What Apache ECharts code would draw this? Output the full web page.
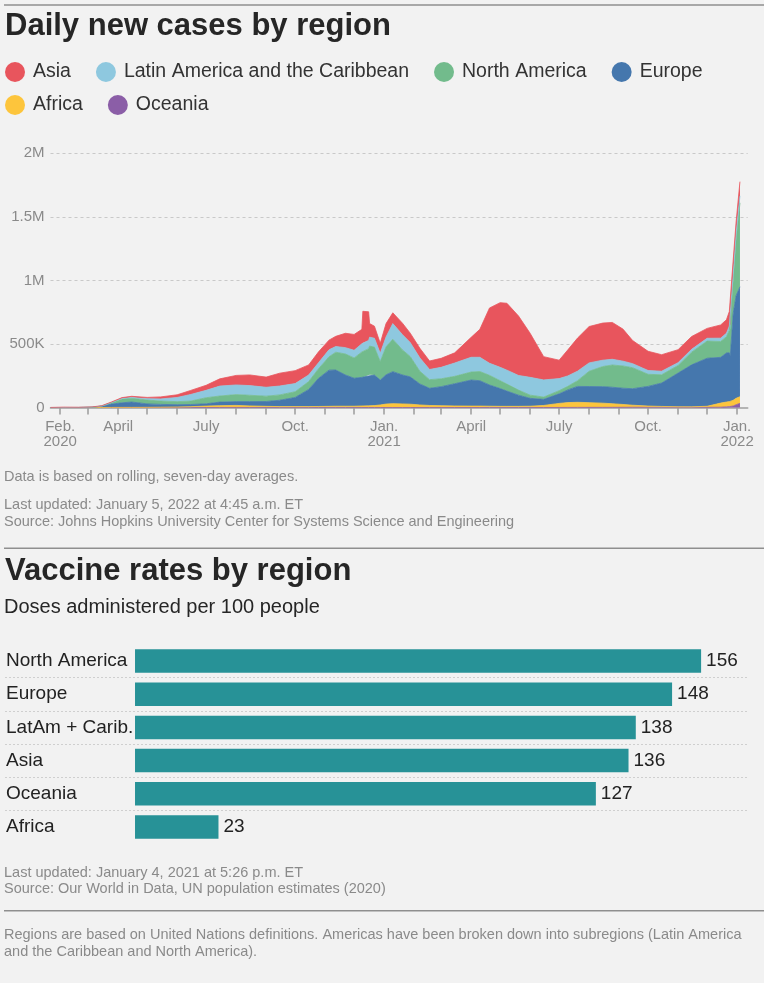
<!DOCTYPE html>
<html><head><meta charset="utf-8">
<script src="https://cdn.jsdelivr.net/npm/echarts@6/dist/echarts.min.js"></script>
<style>html,body{margin:0;padding:0;background:#f2f2f2;}#c{width:764px;height:983px;}</style>
</head><body><div id="c"></div>
<script>
// ---- Daily new cases (7-day avg), thousands ----
const dates = ['2020-01-22','2020-02-05','2020-02-20','2020-03-05','2020-03-15','2020-03-25','2020-04-05','2020-04-15','2020-05-01','2020-05-15','2020-06-01','2020-06-15','2020-07-01','2020-07-15','2020-08-01','2020-08-15','2020-09-01','2020-09-15','2020-10-01','2020-10-15','2020-10-25','2020-11-05','2020-11-12','2020-11-22','2020-12-01','2020-12-09','2020-12-10','2020-12-16','2020-12-17','2020-12-22','2020-12-28','2021-01-03','2021-01-10','2021-01-20','2021-01-28','2021-02-07','2021-02-17','2021-03-01','2021-03-15','2021-04-01','2021-04-10','2021-04-20','2021-05-01','2021-05-08','2021-05-20','2021-06-01','2021-06-15','2021-07-01','2021-07-10','2021-07-20','2021-08-01','2021-08-15','2021-08-25','2021-09-05','2021-09-15','2021-10-01','2021-10-15','2021-11-01','2021-11-15','2021-12-01','2021-12-15','2021-12-21','2021-12-24','2021-12-25','2021-12-28','2021-12-31','2022-01-04'];
const oceania = [0,0,0,0,0.05,0.4,0.3,0.1,0.02,0.02,0.02,0.02,0.05,0.3,0.4,0.35,0.12,0.05,0.02,0.02,0.02,0.02,0.02,0.02,0.02,0.02,0.02,0.02,0.02,0.03,0.03,0.04,0.04,0.03,0.02,0.02,0.02,0.02,0.03,0.03,0.03,0.03,0.03,0.03,0.05,0.05,0.1,0.3,0.6,0.9,1.1,1.2,1.4,1.8,2.0,2.2,2.4,1.9,1.5,1.5,2.5,5,7,8,12,22,33];
const africa = [0,0,0,0.01,0.05,0.3,0.6,1,1.5,2.5,4,6.5,11,14,16,12,9,7,7,7,8,9,10,10,10,12,12,13,13,15,20,27,30,28,26,20,16,14,12,11,11,10,9,9,9,10,16,32,38,40,37,33,28,22,16,9,6,4,4,8,32,38,39,40,45,50,52];
const europe = [0,0,0.05,2,10,26,36,42,27,22,18,17,18,28,30,34,38,50,72,135,220,285,285,246,220,225,225,235,245,240,196,230,252,228,215,165,135,150,175,205,200,167,140,120,88,62,48,75,100,125,127,130,130,128,130,155,184,265,330,378,360,386,385,360,683,808,865];
const northAmerica = [0,0,0,0.1,1.5,11,30,30,30,26,24,27,48,48,55,50,42,42,45,62,75,105,140,165,160,200,205,215,225,220,145,220,255,197,160,100,68,62,58,63,72,76,62,55,40,25,18,25,28,45,120,158,175,175,165,95,65,60,100,135,125,128,175,210,260,440,660];
const latinAmerica = [0,0,0,0,0.2,1.5,4,6,11,17,33,52,58,78,76,76,70,70,64,52,48,55,45,50,60,65,65,65,70,70,65,78,123,120,110,105,80,90,105,116,112,95,105,110,115,140,135,95,82,75,66,50,45,38,32,30,28,22,22,22,26,27,35,35,45,50,55];
const asia = [0.5,3,1.8,2.5,2.5,4,7,9,10,16,21,32,40,57,75,84,80,101,102,79,85,76,80,113,125,113,250,225,107,95,79,105,85,90,74,76,67,71,80,157,220,435,509,526,468,347,183,145,205,260,286,292,290,252,182,151,130,102,101,78,104,106,114,100,115,90,112];

const labelDates = ['2020-02-01','2020-04-01','2020-07-01','2020-10-01','2021-01-01','2021-04-01','2021-07-01','2021-10-01','2022-01-01'];
const labelTexts = ['Feb.\n2020','April','July','Oct.','Jan.\n2021','April','July','Oct.','Jan.\n2022'];
const yTickLabels = ['0','500K','1M','1.5M','2M'];

// ---- Vaccine doses per 100 people ----
const vacCategories = ['North America','Europe','LatAm + Carib.','Asia','Oceania','Africa'];
const vacValues = [156,148,138,136,127,23];

const FONT = '"Liberation Sans", Arial, Helvetica, sans-serif';
function ts(s){const p=s.split('-').map(Number);return Date.UTC(p[0],p[1]-1,p[2]);}
const monthTicks=[];
for(let y=2020,m=1;y<2022||(y===2022&&m===0);){monthTicks.push(Date.UTC(y,m,1));m++;if(m>11){m=0;y++;}}
const labelTs = labelDates.map(ts);

const layers = [
  {name:'Oceania', data:oceania, color:'#8b5ea7'},
  {name:'Africa', data:africa, color:'#fdc53c'},
  {name:'Europe', data:europe, color:'#4577ad'},
  {name:'North America', data:northAmerica, color:'#72bb8c'},
  {name:'Latin America and the Caribbean', data:latinAmerica, color:'#8ec8df'},
  {name:'Asia', data:asia, color:'#e8555d'}
];

// value first, date second so that the library stacks the case counts (not the dates)
const series = layers.map(l=>({
  name:l.name, type:'line', stack:'cases', xAxisIndex:0, yAxisIndex:0,
  dimensions:['cases','date'],
  encode:{x:'date',y:'cases'},
  symbol:'none', silent:true, color:l.color,
  lineStyle:{width:0.8,color:l.color},
  areaStyle:{color:l.color,opacity:1},
  emphasis:{disabled:true},
  data:dates.map((d,i)=>[l.data[i],ts(d)])
}));
series.push({
  type:'bar', xAxisIndex:1, yAxisIndex:1, data:vacValues, barWidth:23.5, silent:true,
  itemStyle:{color:'#279297'},
  label:{show:true,position:'right',distance:5,fontSize:19,color:'#222',fontFamily:FONT},
  emphasis:{disabled:true}
});

function txt(text,x,y,size,color,weight){
  return {type:'text',x:x,y:y,silent:true,style:{text:text,font:(weight||'normal')+' '+size+'px '+FONT,fill:color,align:'left',verticalAlign:'middle'}};
}
function rule(y){return {type:'rect',silent:true,shape:{x:4,y:y,width:760,height:1.6},style:{fill:'#8f8f8f'}};}

const legendCommon = {left:5,orient:'horizontal',padding:0,itemWidth:20,itemHeight:20,itemGap:25,icon:'circle',selectedMode:false,
  textStyle:{fontSize:19.5,color:'#333',fontFamily:FONT,padding:[0,0,0,3]}};

const option = {
  backgroundColor:'#f2f2f2',
  animation:false,
  textStyle:{fontFamily:FONT},
  legend:[
    Object.assign({},legendCommon,{top:62,data:['Asia','Latin America and the Caribbean','North America','Europe']}),
    Object.assign({},legendCommon,{top:95,data:['Africa','Oceania']})
  ],
  grid:[
    {left:50.5,right:16.3,top:153.3,bottom:575.5},
    {left:5,right:15,top:644.5,height:199}
  ],
  xAxis:[
    {type:'value',gridIndex:0,min:ts('2020-01-22'),max:ts('2022-01-12'),
     axisLine:{show:true,onZero:false,lineStyle:{color:'#a0a0a0',width:1.6}},
     axisTick:{show:true,customValues:monthTicks,length:7,lineStyle:{color:'#a0a0a0',width:1.6}},
     axisLabel:{customValues:labelTs,fontSize:15,color:'#8a8a8a',lineHeight:15,margin:12,fontFamily:FONT,
       formatter:function(v){const i=labelTs.indexOf(v);return i>=0?labelTexts[i]:'';}},
     splitLine:{show:false}},
    {type:'value',gridIndex:1,min:-35.83,max:169.2,show:false}
  ],
  yAxis:[
    {type:'value',gridIndex:0,min:0,max:2000,interval:500,
     axisLine:{show:false},axisTick:{show:false},
     axisLabel:{fontSize:15,color:'#8a8a8a',margin:6,fontFamily:FONT,formatter:function(v){return yTickLabels[Math.round(v/500)];}},
     splitLine:{show:true,showMinLine:false,lineStyle:{color:'#c9c9c9',type:[3,3],width:1}}},
    {type:'category',gridIndex:1,data:vacCategories,inverse:true,
     axisLine:{show:false,onZero:false},axisTick:{show:false},
     axisLabel:{inside:true,margin:1,fontSize:19,color:'#222',fontFamily:FONT},
     splitLine:{show:true,interval:0,showMinLine:false,showMaxLine:false,lineStyle:{color:'#cfcfcf',type:[2,2],width:1}}}
  ],
  graphic:[
    rule(4.2),
    txt('Daily new cases by region',5,26.5,31,'#262626','bold'),
    txt('Data is based on rolling, seven-day averages.',4,476.5,14.5,'#8a8a8a'),
    txt('Last updated: January 5, 2022 at 4:45 a.m. ET',4,504.5,14.5,'#8a8a8a'),
    txt('Source: Johns Hopkins University Center for Systems Science and Engineering',4,521.5,14.5,'#8a8a8a'),
    rule(547.5),
    txt('Vaccine rates by region',5,571,31,'#262626','bold'),
    txt('Doses administered per 100 people',4,607,20,'#262626'),
    txt('Last updated: January 4, 2021 at 5:26 p.m. ET',4,872.5,14.5,'#8a8a8a'),
    txt('Source: Our World in Data, UN population estimates (2020)',4,888.5,14.5,'#8a8a8a'),
    rule(910),
    txt('Regions are based on United Nations definitions. Americas have been broken down into subregions (Latin America',4,935,14.5,'#8a8a8a'),
    txt('and the Caribbean and North America).',4,951.5,14.5,'#8a8a8a')
  ],
  series:series
};
const chart = echarts.init(document.getElementById('c'));
chart.setOption(option);
</script></body></html>
